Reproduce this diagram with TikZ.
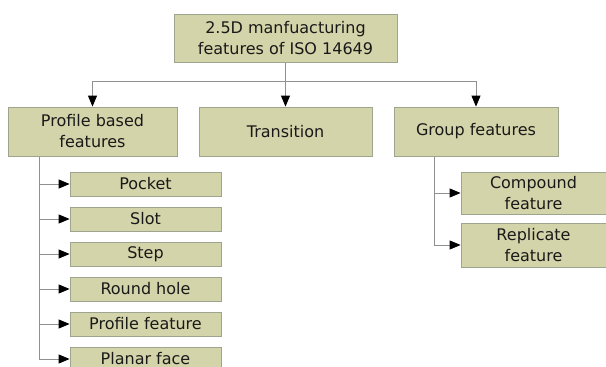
\documentclass[tikz,border=0pt]{standalone}
\usepackage{fontspec}
\setmainfont{DejaVu Sans}
\usetikzlibrary{arrows.meta,backgrounds}
\definecolor{boxfill}{HTML}{D4D4AA}
\definecolor{boxline}{HTML}{9EA58E}
\definecolor{conn}{HTML}{909090}
\tikzset{
  fbox/.style={draw=boxline, fill=boxfill, line width=0.8pt, inner sep=0pt,
    align=center, font=\fontsize{16}{21}\selectfont, text=black!90},
  conn/.style={draw=conn, line width=0.9pt,
    -{Triangle[length=11pt,width=9pt,fill=black,color=black]}},
}
\begin{document}
\begin{tikzpicture}[x=1pt,y=-1pt]
\useasboundingbox (0,0) rectangle (606,367);
\clip (0,0) rectangle (606,367);
% top
\node[fbox, minimum width=223pt, minimum height=48pt] (top) at (285.5,38) {2.5D manfuacturing\\features of ISO 14649};
% level 2
\node[fbox, minimum width=169pt, minimum height=49pt] (prof) at (92.5,131.5) {Profile based\\features};
\node[fbox, minimum width=173pt, minimum height=49pt] (trans) at (285.5,131.5) {Transition};
\node[fbox, minimum width=164pt, minimum height=49pt] (group) at (476,131.5) {Group features};
% profile children
\foreach \n/\t [count=\i from 0] in {pocket/Pocket, slot/Slot, step/Step, round/Round hole, pfeat/Profile feature, planar/Planar face}{
  \node[fbox, minimum width=151pt, minimum height=24pt] (\n) at (145.5,{184+35*\i}) {\t};
}
% group children
\node[fbox, minimum width=145pt, minimum height=42pt] (comp) at (533.5,193) {Compound\\feature};
\node[fbox, minimum width=145pt, minimum height=44pt] (repl) at (533.5,245) {Replicate\\feature};
\begin{scope}[on background layer]
\fill[white] (0,0) rectangle (606,367);
% connectors from top
\coordinate (bus) at ([yshift=-19pt]top.south);
\draw[conn] (top.south) -- (bus) -| (prof.north);
\draw[conn] (top.south) -- (trans.north);
\draw[conn] (bus) -| (group.north);
% profile children connectors
\coordinate (pv) at ([xshift=-53.5pt]prof.south);
\foreach \n in {pocket, slot, step, round, pfeat, planar}{
  \draw[conn] (pv) |- (\n.west);
}
% group children connectors
\coordinate (gv) at ([xshift=-42pt]group.south);
\draw[conn] (gv) |- (comp.west);
\draw[conn] (gv) |- (repl.west);
\end{scope}
\end{tikzpicture}
\end{document}
